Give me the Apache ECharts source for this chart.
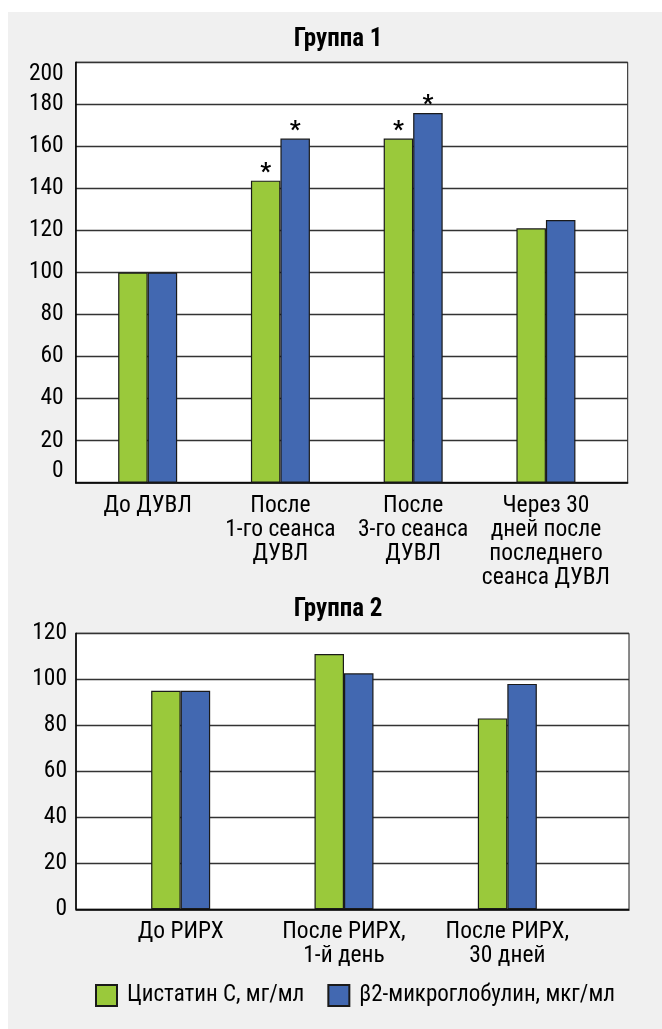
<!DOCTYPE html>
<html>
<head>
<meta charset="utf-8">
<script src="https://cdn.jsdelivr.net/npm/echarts@6/dist/echarts.min.js"></script>
<style>
  html, body { margin: 0; padding: 0; background: #ffffff; }
  #wrap { position: relative; width: 662px; height: 1029px; overflow: hidden; }
  #panel { position: absolute; left: 8px; top: 12px; right: 0; bottom: 0; background: #f0f0f0; }
  #chart { position: absolute; left: 0; top: 0; width: 662px; height: 1029px; }
</style>
</head>
<body>
<div id="wrap">
  <div id="panel"></div>
  <div id="chart"></div>
</div>
<script>
// Series names (legend)
const seriesNames = ['Цистатин С, мг/мл', 'β2-микроглобулин, мкг/мл'];
const panelTitles = ['Группа 1', 'Группа 2'];

// Group 1: ESWL sessions
const stages1 = ['До ДУВЛ', 'После\n1-го сеанса\nДУВЛ', 'После\n3-го сеанса\nДУВЛ', 'Через 30\nдней после\nпоследнего\nсеанса ДУВЛ'];
const cystatin1 = [100, 143.7, 163.7, 121];
const b2m1 = [100, 163.7, 175.9, 125];
const signifCystatin1 = [false, true, true, false];
const signifB2m1 = [false, true, true, false];
const yMax1 = 200;
const yStep1 = 20;

// Group 2: RIRS
const stages2 = ['До РИРХ', 'После РИРХ,\n1-й день', 'После РИРХ,\n30 дней'];
const cystatin2 = [95, 111, 83];
const b2m2 = [95, 102.6, 98];
const signifCystatin2 = [false, false, false];
const signifB2m2 = [false, false, false];
const yMax2 = 120;
const yStep2 = 20;

// Pick the installed sans face whose width is closest to a condensed grotesque.
function pickFont() {
  const ctx = document.createElement('canvas').getContext('2d');
  const sample = '1-го сеанса';
  const target = 108;
  const measure = (font) => { ctx.font = '10px monospace'; ctx.font = font; return ctx.measureText(sample).width; };
  const mono = measure('22px monospace');
  const cands = [
    ['condensed', "'Noto Sans'"], ['semi-condensed', "'Noto Sans'"], ['extra-condensed', "'Noto Sans'"],
    ['', "'Noto Sans Condensed'"], ['', "'Noto Sans SemiCondensed'"], ['', "'Noto Sans ExtraCondensed'"],
    ['condensed', 'Roboto'], ['semi-condensed', 'Roboto'], ['condensed', "'Open Sans'"], ['semi-condensed', "'Open Sans'"],
    ['', "'Roboto Condensed'"], ['', "'Liberation Sans Narrow'"], ['', "'DejaVu Sans Condensed'"]
  ];
  let best = { stretch: '', family: "'DejaVu Sans Condensed', sans-serif", diff: Infinity };
  for (const [stretch, family] of cands) {
    const withFallback = measure((stretch + ' 22px ' + family + ', monospace').trim());
    if (Math.abs(withFallback - mono) < 0.5) continue; // not installed
    if (stretch) {
      const plain = measure('22px ' + family + ', monospace');
      if (withFallback > plain - 1) continue; // width keyword not honoured
    }
    const d = Math.abs(withFallback - target);
    if (d < best.diff) best = { stretch: stretch, family: family + ', sans-serif', diff: d };
  }
  return best;
}
const PICK = pickFont();
const FONT = PICK.family;
const W_NORMAL = (PICK.stretch + ' normal').trim();
const W_BOLD = (PICK.stretch + ' bold').trim();
const FS = 23.5;

const GREEN = '#9ac93b';
const BLUE = '#4268b1';
const INK = '#000000';

function barSeries(name, values, flags, color, axisIdx) {
  return {
    type: 'bar',
    name: name,
    xAxisIndex: axisIdx,
    yAxisIndex: axisIdx,
    barWidth: 29.5,
    barGap: '0%',
    itemStyle: { color: color, borderColor: '#1a1a1a', borderWidth: 1.2 },
    label: {
      show: false, position: 'top', distance: -4, formatter: '*',
      fontFamily: FONT, fontSize: 24, fontWeight: 'bold', color: INK
    },
    emphasis: { disabled: true },
    data: values.map((v, i) => flags[i] ? { value: v, label: { show: true } } : v)
  };
}

// Frame axis (white plot, gridlines, tick labels) and inner axis (bars, category labels)
function frameY(gridIndex, max, step, extraLabel) {
  return {
    gridIndex: gridIndex, type: 'value', min: 0, max: max, interval: step,
    axisLine: { show: true, lineStyle: { color: INK, width: 1.5 } },
    axisTick: { show: false },
    axisLabel: Object.assign({ fontFamily: FONT, fontWeight: W_NORMAL, fontSize: FS, color: INK }, extraLabel),
    splitLine: { show: true, lineStyle: { color: '#333333', width: 1.4 } }
  };
}
function hiddenY(gridIndex, max) {
  return { gridIndex: gridIndex, type: 'value', min: 0, max: max, show: false };
}
function frameX(gridIndex, data) {
  return {
    gridIndex: gridIndex, type: 'category', data: data,
    axisLine: { show: true, lineStyle: { color: INK, width: 1.5 } },
    axisTick: { show: false }, axisLabel: { show: false }, splitLine: { show: false }
  };
}
function labelX(gridIndex, data) {
  return {
    gridIndex: gridIndex, type: 'category', data: data,
    axisLine: { show: false }, axisTick: { show: false },
    axisLabel: { interval: 0, fontFamily: FONT, fontWeight: W_NORMAL, fontSize: FS, lineHeight: 24, margin: 11, color: INK }
  };
}

const chart = echarts.init(document.getElementById('chart'), null, { renderer: 'canvas' });
chart.setOption({
  backgroundColor: 'transparent',
  animation: false,
  textStyle: { fontFamily: FONT },
  graphic: [
    { type: 'text', x: 338, y: 40, style: { text: panelTitles[0], fontFamily: FONT, fontWeight: W_BOLD, fontSize: 25, fill: INK, align: 'center', verticalAlign: 'middle' } },
    { type: 'text', x: 338, y: 610, style: { text: panelTitles[1], fontFamily: FONT, fontWeight: W_BOLD, fontSize: 25, fill: INK, align: 'center', verticalAlign: 'middle' } }
  ],
  legend: {
    data: seriesNames,
    left: 95, top: 984, width: 567, padding: 0,
    itemWidth: 21, itemHeight: 21, itemGap: 23,
    icon: 'rect',
    textStyle: { fontFamily: FONT, fontWeight: W_NORMAL, fontSize: 23, color: INK, padding: [0, 0, 0, 5] },
    selectedMode: false
  },
  grid: [
    { left: 75.7, top: 62.3, width: 552, height: 420.4, show: true, backgroundColor: '#ffffff', borderColor: '#1a1a1a', borderWidth: 1, containLabel: false, outerBoundsMode: 'none' },
    { left: 81.3, top: 62.3, width: 531, height: 420.4, containLabel: false, outerBoundsMode: 'none' },
    { left: 76, top: 633.3, width: 553, height: 276, show: true, backgroundColor: '#ffffff', borderColor: '#1a1a1a', borderWidth: 1, containLabel: false, outerBoundsMode: 'none' },
    { left: 99, top: 633.3, width: 490, height: 276, containLabel: false, outerBoundsMode: 'none' }
  ],
  xAxis: [
    frameX(0, stages1),
    labelX(1, stages1),
    frameX(2, stages2),
    labelX(3, stages2)
  ],
  yAxis: [
    frameY(0, yMax1, yStep1, { margin: 12, verticalAlignMinLabel: 'bottom', verticalAlignMaxLabel: 'top' }),
    hiddenY(1, yMax1),
    frameY(2, yMax2, yStep2, { margin: 9 }),
    hiddenY(3, yMax2)
  ],
  series: [
    barSeries(seriesNames[0], cystatin1, signifCystatin1, GREEN, 1),
    barSeries(seriesNames[1], b2m1, signifB2m1, BLUE, 1),
    barSeries(seriesNames[0], cystatin2, signifCystatin2, GREEN, 3),
    barSeries(seriesNames[1], b2m2, signifB2m2, BLUE, 3)
  ]
});
</script>
</body>
</html>
